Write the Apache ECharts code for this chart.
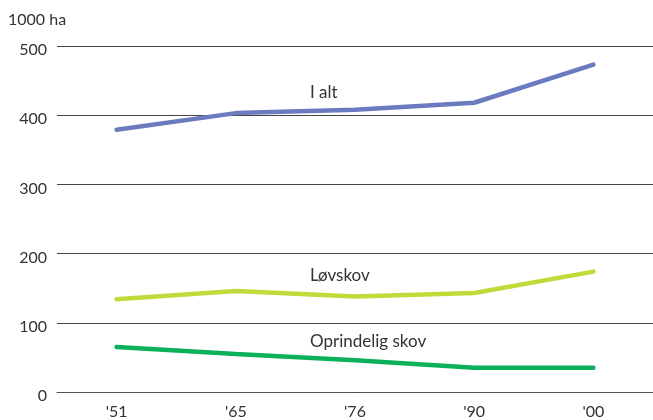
<!DOCTYPE html>
<html>
<head>
<meta charset="utf-8">
<script src="https://cdn.jsdelivr.net/npm/echarts@6/dist/echarts.min.js"></script>
<style>
  html, body { margin: 0; padding: 0; background: #fff; }
  #chart { width: 653px; height: 420px; }
</style>
</head>
<body>
<div id="chart"></div>
<script>
// årstal og serier (1000 ha)
const years = ["'51", "'65", "'76", "'90", "'00"]
const iAlt = [379, 403, 408, 418, 473]
const loevskov = [134, 146, 138, 143, 174]
const oprindelig = [65, 55, 46, 35, 35]

const font = 'Lato, "Open Sans", sans-serif'

let myChart = echarts.init(document.getElementById('chart'))
const options = {
    animation: false,
    grid: {
        left: 57,
        right: -4,
        top: 46,
        bottom: 27
    },
    graphic: [
        { type: 'text', left: 8, top: 12, style: { text: '1000 ha', font: '16px ' + font, fill: '#333' } },
        { type: 'text', left: 310, top: 84, style: { text: 'I alt', font: '17px ' + font, fill: '#333' } },
        { type: 'text', left: 310, top: 267, style: { text: 'Løvskov', font: '17px ' + font, fill: '#333' } },
        { type: 'text', left: 310, top: 333, style: { text: 'Oprindelig skov', font: '17px ' + font, fill: '#333' } }
    ],
    xAxis: {
        type: 'category',
        data: years,
        boundaryGap: true,
        axisLine: { show: true, lineStyle: { color: '#555', width: 1 } },
        axisTick: { show: false },
        axisLabel: { color: '#333', fontSize: 16, fontFamily: font, margin: 12 }
    },
    yAxis: {
        type: 'value',
        min: 0,
        max: 500,
        interval: 100,
        axisLine: { show: false },
        axisTick: { show: false },
        axisLabel: { color: '#333', fontSize: 16, fontFamily: font, margin: 10, verticalAlign: 'top', padding: [-4, 0, 0, 0] },
        splitLine: { lineStyle: { color: '#444', width: 1 } }
    },
    series: [
        {
            name: 'I alt',
            type: 'line',
            data: iAlt,
            symbol: 'none',
            lineStyle: { color: '#6b7bbf', width: 4.5, cap: 'round' }
        },
        {
            name: 'Løvskov',
            type: 'line',
            data: loevskov,
            symbol: 'none',
            lineStyle: { color: '#c3d93a', width: 4.5, cap: 'round' }
        },
        {
            name: 'Oprindelig skov',
            type: 'line',
            data: oprindelig,
            symbol: 'none',
            lineStyle: { color: '#0bb05b', width: 4.5, cap: 'round' }
        }
    ]
}
myChart.setOption(options)
</script>
</body>
</html>
